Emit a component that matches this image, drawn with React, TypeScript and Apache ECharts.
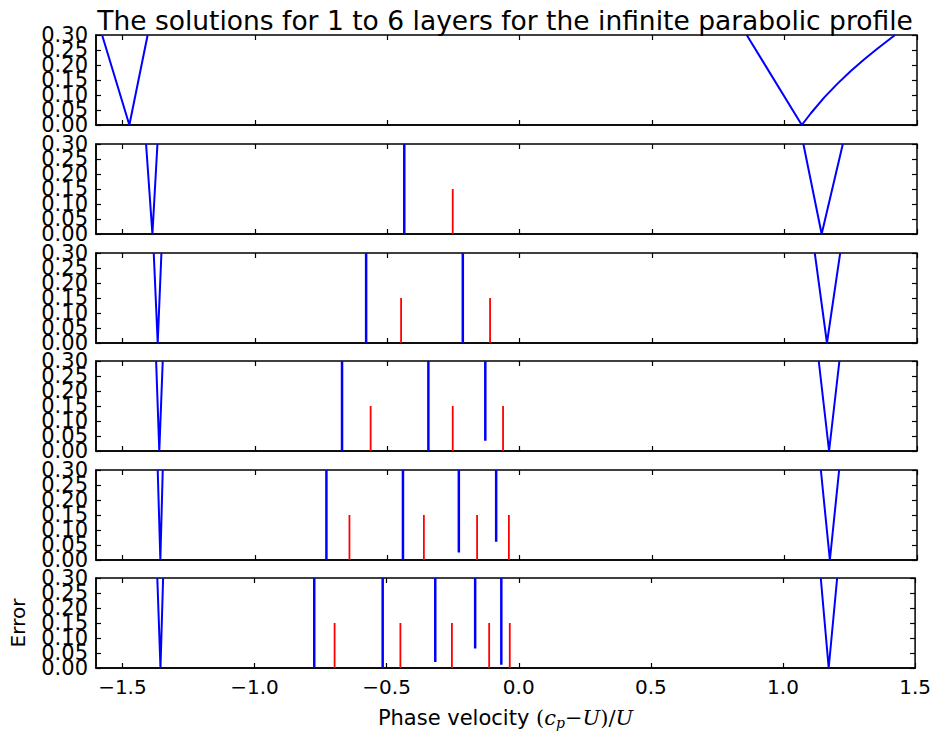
import React, { useEffect, useRef } from "react";
import * as echarts from "echarts";

// ---- data ----
const X_MIN = -1.6;
const X_MAX = 1.5;
const xTickValues = [-1.5, -1.0, -0.5, 0.0, 0.5, 1.0, 1.5];
const Y_MAX = 0.3;
const Y_STEP = 0.05;
// y tick labels, split in two alternating sets so that none is dropped
const yLabelsEven = [0.0, 0.1, 0.2, 0.3];
const yLabelsOdd = [0.05, 0.15, 0.25];

// left error dip (V) for 1..6 layers: x at top-left, minimum, top-right
const leftDipX = [
  [-1.577, -1.474, -1.405],
  [-1.411, -1.387, -1.368],
  [-1.382, -1.367, -1.353],
  [-1.373, -1.361, -1.348],
  [-1.367, -1.357, -1.348],
  [-1.368, -1.356, -1.346],
];
const leftDipY = [0.3, 0.0, 0.3];

// right error dip for 1..6 layers
const rightDipX = [
  [0.857, 1.065, 1.1, 1.15, 1.2, 1.25, 1.3, 1.35, 1.417],
  [1.071, 1.14, 1.22],
  [1.114, 1.16, 1.21],
  [1.129, 1.168, 1.207],
  [1.137, 1.171, 1.206],
  [1.143, 1.173, 1.205],
];
const rightDipY = [
  [0.3, 0.0, 0.04, 0.092, 0.138, 0.18, 0.218, 0.254, 0.3],
  [0.3, 0.0, 0.3],
  [0.3, 0.0, 0.3],
  [0.3, 0.0, 0.3],
  [0.3, 0.0, 0.3],
  [0.3, 0.0, 0.3],
];

// numerical roots (narrow blue dips) and their minimum error
const rootX = [
  [],
  [-0.436],
  [-0.58, -0.215],
  [-0.671, -0.345, -0.13],
  [-0.73, -0.441, -0.23, -0.089],
  [-0.774, -0.515, -0.316, -0.165, -0.066],
];
const rootMinError = [
  [],
  [0.0],
  [0.0, 0.0],
  [0.0, 0.0, 0.034],
  [0.0, 0.0, 0.025, 0.061],
  [0.0, 0.0, 0.02, 0.065, 0.011],
];

// exact solutions (red markers)
const exactX = [
  [],
  [-0.253],
  [-0.448, -0.112],
  [-0.563, -0.253, -0.063],
  [-0.643, -0.362, -0.161, -0.041],
  [-0.697, -0.448, -0.253, -0.112, -0.034],
];
const EXACT_MARK = 0.15;

// ---- layout ----
const PANEL_TOPS = [35, 144, 253, 361, 470, 578];
const PANEL_H = 90;
const GRID_LEFT = 96;
const GRID_RIGHT = 17;
const FONT = "DejaVu Sans";
const BLUE = "#0000ff";
const RED = "#ff0000";

function fmtX(v: number) {
  const s = Math.abs(v).toFixed(1);
  return v < -1e-9 ? "\u2212" + s : s;
}

export default function App() {
  const ref = useRef<HTMLDivElement>(null);
  useEffect(() => {
    if (!ref.current) return;
    const chart = echarts.init(ref.current, null, { renderer: "svg" });
    const n = PANEL_TOPS.length;
    const grids: any[] = [];
    const xAxes: any[] = [];
    const yAxes: any[] = [];
    const series: any[] = [];
    const tick = { show: true, inside: true, length: 5, lineStyle: { color: "#000", width: 1.2 } };
    const yLabelStyle = {
      show: true,
      formatter: (v: number) => v.toFixed(2),
      color: "#000",
      fontFamily: FONT,
      fontSize: 21,
      margin: 8,
      hideOverlap: false,
    };

    for (let p = 0; p < n; p++) {
      const last = p === n - 1;
      grids.push({
        left: GRID_LEFT,
        right: GRID_RIGHT,
        top: PANEL_TOPS[p],
        height: PANEL_H,
        show: true,
        borderColor: "#000",
        borderWidth: 1.5,
        backgroundColor: "transparent",
      });
      // bottom x axis
      xAxes.push({
        type: "value",
        gridIndex: p,
        min: X_MIN,
        max: X_MAX,
        position: "bottom",
        axisLine: { show: true, onZero: false, lineStyle: { color: "#000", width: 1.5 } },
        axisTick: { ...tick, customValues: xTickValues },
        axisLabel: {
          show: last,
          customValues: xTickValues,
          formatter: fmtX,
          color: "#000",
          fontFamily: FONT,
          fontSize: 20,
          margin: 9,
          hideOverlap: false,
        },
        splitLine: { show: false },
        ...(last
          ? {
              name:
                "{n|Phase velocity }{m|(}{i|c}{s|p}{m|\u2212}{i|U}{m|)/}{i|U}",
              nameLocation: "middle",
              nameGap: 38,
              nameTextStyle: {
                rich: {
                  n: { fontFamily: FONT, fontSize: 21, color: "#000" },
                  m: { fontFamily: "DejaVu Serif", fontSize: 21, color: "#000" },
                  i: {
                    fontFamily: "DejaVu Serif",
                    fontStyle: "italic",
                    fontSize: 21,
                    color: "#000",
                  },
                  s: {
                    fontFamily: "DejaVu Serif",
                    fontStyle: "italic",
                    fontSize: 14,
                    color: "#000",
                    padding: [10, 0, 0, 0],
                  },
                },
              },
            }
          : {}),
      });
      // top x axis (ticks only)
      xAxes.push({
        type: "value",
        gridIndex: p,
        min: X_MIN,
        max: X_MAX,
        position: "top",
        axisLine: { show: false, onZero: false },
        axisTick: { ...tick, customValues: xTickValues },
        axisLabel: { show: false },
        splitLine: { show: false },
      });
      // left y axis: line, ticks, labels 0.00/0.10/0.20/0.30
      yAxes.push({
        type: "value",
        gridIndex: p,
        min: 0,
        max: Y_MAX,
        interval: Y_STEP,
        position: "left",
        axisLine: { show: true, onZero: false, lineStyle: { color: "#000", width: 1.5 } },
        axisTick: tick,
        axisLabel: { ...yLabelStyle, customValues: yLabelsEven },
        splitLine: { show: false },
        ...(last
          ? {
              name: "Error",
              nameLocation: "middle",
              nameRotate: 90,
              nameGap: 68,
              nameTextStyle: { fontFamily: FONT, fontSize: 20, color: "#000" },
            }
          : {}),
      });
      // left y axis: labels 0.05/0.15/0.25
      yAxes.push({
        type: "value",
        gridIndex: p,
        min: 0,
        max: Y_MAX,
        interval: Y_STEP,
        position: "left",
        offset: 0,
        axisLine: { show: false, onZero: false },
        axisTick: { show: false },
        axisLabel: { ...yLabelStyle, customValues: yLabelsOdd },
        splitLine: { show: false },
      });
      // right y axis (ticks only)
      yAxes.push({
        type: "value",
        gridIndex: p,
        min: 0,
        max: Y_MAX,
        interval: Y_STEP,
        position: "right",
        axisLine: { show: false, onZero: false },
        axisTick: tick,
        axisLabel: { show: false },
        splitLine: { show: false },
      });

      const xi = 2 * p;
      const yi = 3 * p;
      const mk = (data: number[][], color: string, width: number) => ({
        type: "line",
        xAxisIndex: xi,
        yAxisIndex: yi,
        data,
        symbol: "none",
        showSymbol: false,
        clip: true,
        silent: true,
        lineStyle: { color, width },
        z: 3,
      });

      series.push(mk(leftDipX[p].map((x, k) => [x, leftDipY[k]]), BLUE, 2));
      series.push(mk(rightDipX[p].map((x, k) => [x, rightDipY[p][k]]), BLUE, 2));
      rootX[p].forEach((x, k) => {
        series.push(mk([[x, Y_MAX], [x, rootMinError[p][k]]], BLUE, 2.5));
      });
      exactX[p].forEach((x) => {
        series.push(mk([[x, 0], [x, EXACT_MARK]], RED, 1.8));
      });
    }

    chart.setOption({
      animation: false,
      backgroundColor: "#fff",
      title: {
        text: "The solutions for 1 to 6 layers for the infinite parabolic profile",
        left: 500,
        top: 2,
        textAlign: "center",
        textStyle: {
          fontFamily: FONT,
          fontSize: 26.5,
          fontWeight: "normal",
          color: "#000",
        },
      },
      grid: grids,
      xAxis: xAxes,
      yAxis: yAxes,
      series,
    });
    return () => chart.dispose();
  }, []);
  return (
    <div
      ref={ref}
      style={{ position: "fixed", left: 0, top: 0, width: 934, height: 741 }}
    />
  );
}
